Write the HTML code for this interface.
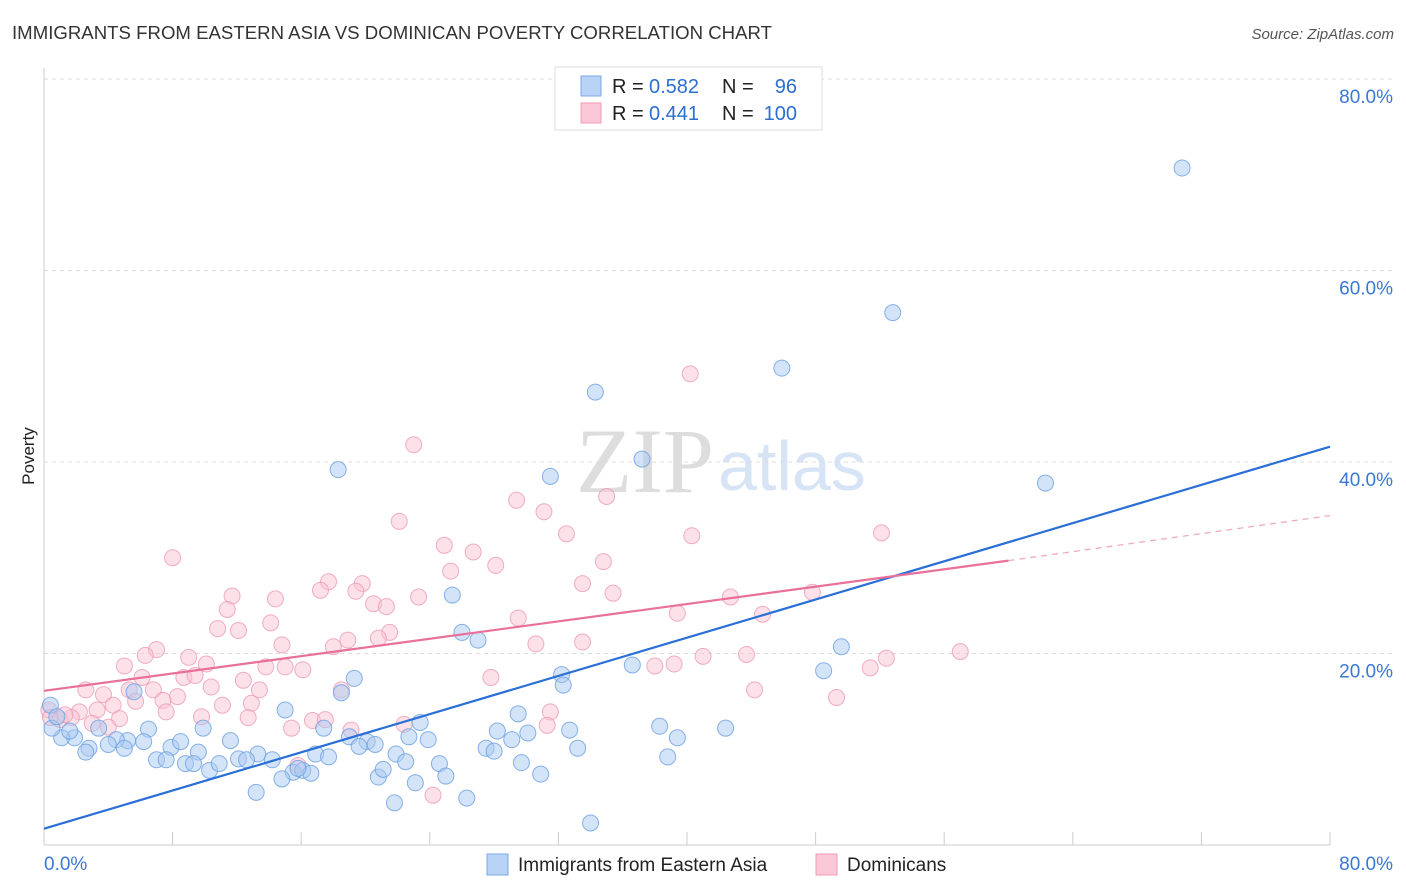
<!DOCTYPE html>
<html><head><meta charset="utf-8"><style>
body{margin:0;background:#fff;font-family:"Liberation Sans",sans-serif}
svg{display:block}
</style></head><body>
<svg id="c" width="1406" height="892">
<text x="12" y="39" font-size="18.6" fill="#333" textLength="760">IMMIGRANTS FROM EASTERN ASIA VS DOMINICAN POVERTY CORRELATION CHART</text>
<text x="1394" y="39" font-size="15" fill="#555" font-style="italic" text-anchor="end">Source: ZipAtlas.com</text>
<text x="34" y="456" font-size="17" fill="#222" text-anchor="middle" transform="rotate(-90 34 456)">Poverty</text>
<text x="714" y="492" font-size="92" fill="#ddd" font-family="Liberation Serif" text-anchor="end">ZIP</text>
<text x="718" y="490" font-size="70" fill="#d6e4f5">atlas</text>
<g id="grid"></g><g id="pts"></g><g id="lines"></g>
<g>
<rect x="555" y="67" width="267" height="63" fill="#fff" stroke="#ddd"/>
<rect x="581" y="76" width="20" height="20" fill="#b8d3f5" stroke="#7aaae8"/>
<rect x="581" y="103" width="20" height="20" fill="#fbc8d8" stroke="#f09ab6"/>
<text x="612" y="93" font-size="20" fill="#222">R =</text>
<text x="649" y="93" font-size="20" fill="#2a6fd1">0.582</text>
<text x="722" y="93" font-size="20" fill="#222">N =</text>
<text x="797" y="93" font-size="20" fill="#2a6fd1" text-anchor="end">96</text>
<text x="612" y="120" font-size="20" fill="#222">R =</text>
<text x="649" y="120" font-size="20" fill="#2a6fd1">0.441</text>
<text x="722" y="120" font-size="20" fill="#222">N =</text>
<text x="797" y="120" font-size="20" fill="#2a6fd1" text-anchor="end">100</text>
</g>
<g>
<rect x="487" y="854" width="21" height="21" fill="#b8d3f5" stroke="#7aaae8"/>
<text x="518" y="871" font-size="19" fill="#222">Immigrants from Eastern Asia</text>
<rect x="816" y="854" width="21" height="21" fill="#fbc8d8" stroke="#f09ab6"/>
<text x="847" y="871" font-size="19" fill="#222">Dominicans</text>
</g>
</svg>
<script>
const yTicks=[20,40,60,80];
const xTickLabels=["0.0%","80.0%"];
const blueX=[70.8,52.8,45.9,34.3,37.2,31.5,18.3,62.3,25.4,26.0,27.0,49.6,48.5,36.6,32.2,32.3,19.3,18.5,5.6,15.0,29.5,23.4,38.3,42.4,32.7,28.2,30.1,17.4,22.7,23.9,19.0,20.1,20.6,19.6,39.4,29.1,33.2,27.5,28.0,21.9,16.9,17.7,13.3,11.6,9.6,7.9,6.5,8.5,9.9,6.2,5.2,4.5,4.0,5.0,3.4,2.8,2.6,1.9,1.1,0.5,0.4,0.8,1.6,7.0,7.6,8.8,9.3,10.3,10.9,12.1,12.6,14.2,15.5,16.1,16.6,15.8,14.8,13.2,20.8,21.1,22.5,24.6,25.0,29.7,30.9,23.1,21.8,26.3,34.0,38.8];
const blueY=[70.7,55.6,49.8,47.3,40.3,38.5,39.2,37.8,26.1,22.2,21.4,20.7,18.2,18.8,17.8,16.7,17.4,15.9,16.0,14.1,13.7,12.8,12.4,12.2,12.0,11.9,11.7,12.2,11.3,11.0,11.3,10.8,10.5,10.3,11.2,11.0,10.1,10.1,9.8,9.5,9.5,9.2,9.5,10.9,9.7,10.2,12.1,10.8,12.2,10.8,10.9,11.0,10.5,10.1,12.2,10.1,9.7,11.2,11.2,12.2,14.6,13.4,11.9,8.9,8.9,8.5,8.5,7.8,8.5,9.0,8.9,8.9,7.6,7.8,7.5,8.0,6.9,5.5,7.1,7.9,8.7,8.5,7.2,8.6,7.4,6.5,4.4,4.9,2.3,9.2];
const pinkX=[40.2,23.0,29.4,35.0,31.1,22.1,32.5,40.3,52.1,24.9,26.7,34.8,8.0,28.1,25.3,17.7,33.5,19.8,17.2,19.4,11.7,14.4,23.3,35.4,42.7,47.8,20.5,21.3,11.4,39.4,44.7,29.5,14.1,10.8,12.1,21.5,18.9,20.8,33.5,14.8,18.0,30.6,7.0,6.3,9.0,10.1,5.0,13.8,15.0,16.1,38.0,39.2,41.0,43.7,57.0,52.4,51.4,6.1,8.7,9.4,12.4,27.8,2.6,5.3,6.8,10.4,13.4,18.5,3.7,8.3,7.4,5.7,12.9,11.1,44.2,49.3,4.3,3.3,7.6,2.2,1.7,4.7,9.8,12.7,16.7,17.5,31.5,3.0,4.0,22.4,31.3,15.4,19.1,0.3,0.4,1.0,1.3,15.8,24.2];
const pinkY=[49.2,41.8,36.0,36.4,34.8,33.8,32.5,32.3,32.6,31.3,30.6,29.6,30.0,29.2,28.6,27.5,27.3,27.3,26.6,26.5,26.0,25.7,25.9,26.3,25.9,26.4,25.2,24.9,24.6,24.2,24.1,23.7,23.2,22.6,22.4,22.2,21.4,21.6,21.2,20.9,20.7,21.0,20.4,19.8,19.6,18.9,18.7,18.6,18.6,18.3,18.7,18.9,19.7,19.9,20.2,19.5,18.5,17.5,17.5,17.7,17.2,17.5,16.2,16.2,16.2,16.5,16.2,16.2,15.7,15.5,15.1,15.0,14.8,14.6,16.2,15.4,14.6,14.1,13.9,13.9,13.3,13.2,13.4,13.3,13.0,13.1,13.9,12.7,12.3,12.6,12.5,12.2,12.0,14.1,13.3,13.1,13.6,8.3,5.2];
const blueLine=[[0,1.7],[80,41.6]];
const pinkLine=[[0,16.1],[60,29.7]];
const pinkDash=[[60,29.7],[80,34.4]];
const X=v=>44+v*16.075, Y=v=>845-v*9.575;
const NS="http://www.w3.org/2000/svg";
function mk(t,a,p){const e=document.createElementNS(NS,t);for(const k in a)e.setAttribute(k,a[k]);p.appendChild(e);return e;}
const g=document.getElementById('grid');
yTicks.forEach(t=>{
 const l=mk('line',{x1:44,x2:1394,y1:Y(t),y2:Y(t),stroke:'#ddd','stroke-dasharray':'4 4'},g);
 
 
 const tx=mk('text',{x:1393,y:Y(t)+24,'font-size':19,fill:'#3a78d4','text-anchor':'end'},g);
 tx.textContent=t.toFixed(1)+'%';
 
 
});
const ax=mk('line',{x1:44,x2:1330,y1:845,y2:845,stroke:'#ccc'},g);


const ay=mk('line',{x1:44,x2:44,y1:68,y2:845,stroke:'#ccc'},g);


for(let i=1;i<=10;i++){const t=mk('line',{x1:X(i*8),x2:X(i*8),y1:832,y2:845,stroke:'#ccc'},g);
 
 }
[[0,44,'start'],[80,1393,'end']].forEach((d,i)=>{const t=mk('text',{x:d[1],y:870,'font-size':19,fill:'#3a78d4','text-anchor':d[2]},g);t.textContent=xTickLabels[i];
 
 });
const P=document.getElementById('pts');
function pts(xs,ys,fill,stroke,name){xs.forEach((x,i)=>{const c=mk('circle',{cx:X(x),cy:Y(ys[i]),r:8,fill:fill,'fill-opacity':0.5,stroke:stroke,'stroke-width':1,'stroke-opacity':0.8},P);
 
 });}
pts(pinkX,pinkY,'#f9c3d4','#ee9ab8','dominicans-point');
pts(blueX,blueY,'#a9c9f2','#6a9fe2','eastern-asia-point');
const L=document.getElementById('lines');
function ln(d,col,w,dash,name){const l=mk('line',{x1:X(d[0][0]),y1:Y(d[0][1]),x2:X(d[1][0]),y2:Y(d[1][1]),stroke:col,'stroke-width':w},L);if(dash)l.setAttribute('stroke-dasharray',dash);
 
 }
ln(blueLine,'#2a6fd6',2.2,null,'eastern-asia-trendline');
ln(pinkLine,'#e8709a',2.2,null,'dominicans-trendline');
ln(pinkDash,'#eeaac2',1.3,'6 5','dominicans-trendline-extension');
</script>
</body></html>
